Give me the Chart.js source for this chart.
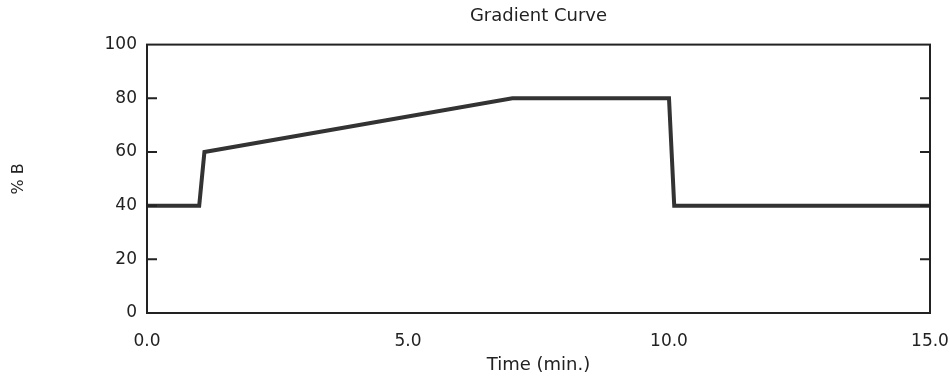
<!DOCTYPE html>
<html>
<head>
<meta charset="utf-8">
<script src="https://cdn.jsdelivr.net/npm/chart.js@4/dist/chart.umd.min.js"></script>
<style>
  html, body { margin: 0; padding: 0; background: #fff; }
  #wrap { width: 950px; height: 378px; position: relative; }
</style>
</head>
<body>
<div id="wrap"><canvas id="c" width="950" height="378"></canvas></div>
<script>
// Data
const timeMin = [0.0, 1.0, 1.1, 7.0, 10.0, 10.1, 15.0];
const percentB = [40, 40, 60, 80, 80, 40, 40];
const xTicks = [0, 5, 10, 15];
const yTicks = [0, 20, 40, 60, 80, 100];
const innerTicks = [20, 40, 60, 80];

const FONT = "'DejaVu Sans', Verdana, sans-serif";

const frameAndTicks = {
  id: 'frameAndTicks',
  afterDatasetsDraw(chart) {
    const { ctx, chartArea: a, scales } = chart;
    ctx.save();
    ctx.strokeStyle = '#222';
    ctx.lineWidth = 2;
    ctx.strokeRect(a.left, a.top, a.right - a.left, a.bottom - a.top);
    innerTicks.forEach(v => {
      const y = scales.y.getPixelForValue(v);
      ctx.beginPath();
      ctx.moveTo(a.left, y); ctx.lineTo(a.left + 10, y);
      ctx.moveTo(a.right, y); ctx.lineTo(a.right - 10, y);
      ctx.stroke();
    });
    ctx.restore();
  }
};

new Chart(document.getElementById('c'), {
  type: 'line',
  data: {
    datasets: [{
      data: timeMin.map((t, i) => ({ x: t, y: percentB[i] })),
      borderColor: '#333333',
      borderWidth: 4,
      pointRadius: 0,
      tension: 0,
      fill: false
    }]
  },
  options: {
    responsive: false,
    animation: false,
    layout: { padding: { left: 0, right: 20, top: 0, bottom: 0 } },
    plugins: {
      legend: { display: false },
      tooltip: { enabled: false },
      title: {
        display: true,
        text: 'Gradient Curve',
        fullSize: false,
        color: '#222',
        font: { family: FONT, size: 18, weight: 'normal' },
        padding: { top: 6, bottom: 17 }
      }
    },
    scales: {
      x: {
        type: 'linear',
        min: 0, max: 15,
        afterBuildTicks(s) { s.ticks = xTicks.map(v => ({ value: v })); },
        afterFit(s) { s.height = 65; s.paddingLeft = 0; s.paddingRight = 0; },
        grid: { display: false, drawTicks: false },
        border: { display: false },
        ticks: {
          padding: 18,
          color: '#222',
          font: { family: FONT, size: 17 },
          maxRotation: 0,
          callback: v => Number(v).toFixed(1)
        },
        title: {
          display: true,
          text: 'Time (min.)',
          color: '#222',
          font: { family: FONT, size: 18 },
          padding: { top: 0, bottom: 2 }
        }
      },
      y: {
        min: 0, max: 100,
        afterBuildTicks(s) { s.ticks = yTicks.map(v => ({ value: v })); },
        afterFit(s) { s.width = 147; },
        grid: { display: false, drawTicks: false },
        border: { display: false },
        ticks: {
          padding: 10,
          color: '#222',
          font: { family: FONT, size: 17 }
        },
        title: {
          display: true,
          text: '% B',
          color: '#222',
          font: { family: FONT, size: 16 },
          padding: { top: 9, bottom: 0 }
        }
      }
    }
  },
  plugins: [frameAndTicks]
});
</script>
</body>
</html>
